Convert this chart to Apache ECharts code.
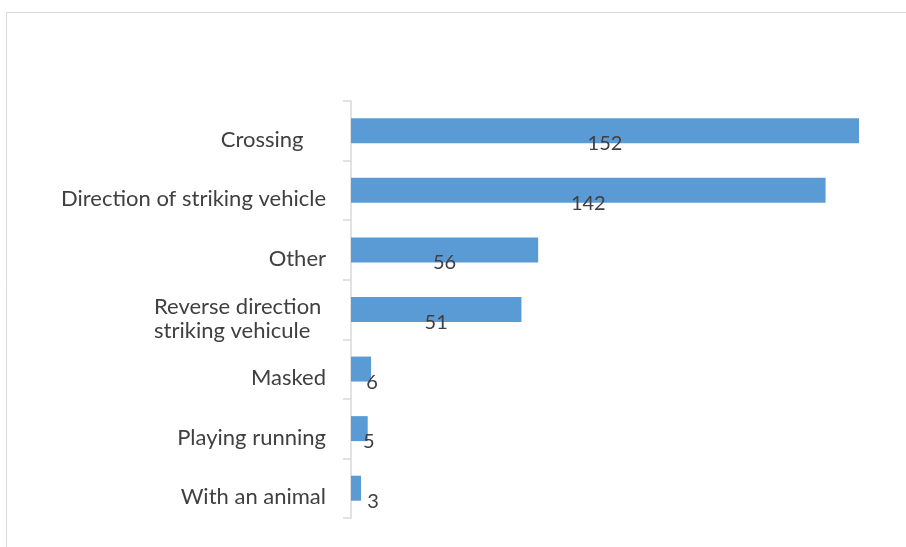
<!DOCTYPE html>
<html>
<head>
<meta charset="utf-8">
<script src="https://cdn.jsdelivr.net/npm/echarts@6/dist/echarts.min.js"></script>
<style>html,body{margin:0;padding:0;background:#fff;}#c{width:906px;height:547px;}</style>
</head>
<body>
<div id="c"></div>
<script>
const categories = ['Crossing    ', 'Direction of striking vehicle', 'Other', 'Reverse direction\nstriking vehicule', 'Masked', 'Playing running', 'With an animal'];
const values = [152, 142, 56, 51, 6, 5, 3];

const chart = echarts.init(document.getElementById('c'));
const labelOffsets = [[0,13],[0,13],[0,13],[0,13],[1,13],[1,13],[12,13]];
const data = values.map((v, i) => ({
  value: v,
  label: i < 4 ? { position: ['50%', '50%'], offset: labelOffsets[i] }
               : { position: ['100%', '50%'], offset: labelOffsets[i] }
}));
const txt = { color: '#404040', fontFamily: 'Lato', fontSize: 22, lineHeight: 24 };
chart.setOption({
  animation: false,
  graphic: [{
    type: 'rect', shape: { x: 6.5, y: 12.5, width: 1000, height: 1000 },
    style: { fill: 'none', stroke: '#d9d9d9', lineWidth: 1 }, silent: true
  }],
  grid: { left: 351, right: 47, top: 101, bottom: 29 },
  xAxis: { type: 'value', min: 0, max: 152, show: false },
  yAxis: {
    type: 'category', data: categories, inverse: true, offset: 2,
    axisLine: { show: true, lineStyle: { color: '#d9d9d9', width: 1.5 } },
    axisTick: { show: true, length: 8, lineStyle: { color: '#d9d9d9', width: 1.5 } },
    axisLabel: Object.assign({
      margin: 23, align: 'right', padding: [18, 0, 0, 0],
      formatter: v => v.indexOf('\n') >= 0 ? v.split('\n').map(s => '{l|' + s + '}').join('\n') : v,
      rich: { l: Object.assign({ width: 172, align: 'left' }, txt) }
    }, txt),
    splitLine: { show: false }
  },
  series: [{
    type: 'bar', data: data, barWidth: 25,
    itemStyle: { color: '#5B9BD5' },
    label: { show: true, color: '#404040', fontFamily: 'Lato', fontSize: 20, align: 'center', verticalAlign: 'middle' }
  }]
});
</script>
</body>
</html>
